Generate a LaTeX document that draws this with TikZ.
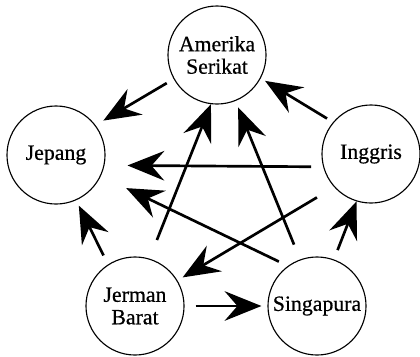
\documentclass[tikz,border=0pt]{standalone}
\usepackage{fontspec}
\setmainfont{Liberation Serif}
\newfontfamily\cfont{Liberation Serif}[FakeBold=0.6]
\usetikzlibrary{arrows.meta}
\begin{document}
\begin{tikzpicture}[x=0.025cm,y=-0.025cm,
  country/.style={circle,draw,line width=0.8pt,minimum size=2.45cm,inner sep=0pt,align=center,
    font=\cfont\fontsize{15.5}{16}\selectfont},
  link/.style={line width=1.9pt,-{Stealth[length=0.92cm,width=0.74cm,inset=0.32cm]}}]
\useasboundingbox (0,0) rectangle (420,356);
\node[country] (ame) at (217,55) {Amerika\\Serikat};
\node[country] (jep) at (56,155) {Jepang};
\node[country] (ing) at (371,154) {Inggris};
\node[country] (jer) at (135,306) {Jerman\\Barat};
\node[country] (sin) at (317,306) {Singapura};
% arrows
\draw[link,shorten <=0.2cm,shorten >=0.225cm] (ame.209) -- (jep.37);
\draw[link,shorten <=0.175cm,shorten >=0.125cm] (ing.140) -- (ame.332);
\draw[link,shorten <=0.5cm] (jer.73) -- (ame.263);
\draw[link,shorten <=0.4cm,shorten >=0.175cm] (sin.110) -- (ame.292);
\draw[link,shorten <=0.3cm,shorten >=0.575cm] (ing.195) -- (jep.348);
\draw[link,shorten <=0.25cm,shorten >=0.7cm] (sin.126) -- (jep.335);
\draw[link,shorten <=0.5cm,shorten >=0.15cm] (ing.222) -- (jer.31);
\draw[link,shorten <=0.25cm,shorten >=0.15cm] (jer.123) -- (jep.294);
\draw[link,shorten <=0.275cm,shorten >=0.15cm] (jer.0) -- (sin.180);
\draw[link,shorten <=0.25cm] (sin.70) -- (ing.253);
\end{tikzpicture}
\end{document}
